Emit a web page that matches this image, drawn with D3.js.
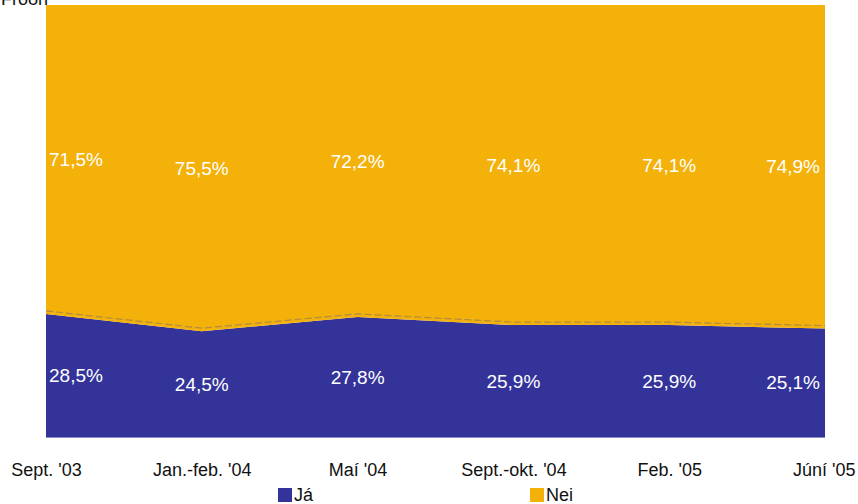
<!DOCTYPE html>
<html><head><meta charset="utf-8">
<script src="https://cdn.jsdelivr.net/npm/d3@7/dist/d3.min.js"></script>
<style>
body{margin:0;background:#fff;}
svg{display:block;}
text{font-family:"Liberation Sans",Arial,sans-serif;}
</style></head>
<body><svg id="c" width="858" height="504"></svg>
<script>
const categories = ["Sept. '03","Jan.-feb. '04","Maí '04","Sept.-okt. '04","Feb. '05","Júní '05"];
const jaValues  = [28.5, 24.5, 27.8, 25.9, 25.9, 25.1];
const neiValues = [71.5, 75.5, 72.2, 74.1, 74.1, 74.9];
const seriesNames = ["Já","Nei"];
const colors = ["#333399","#F4B10A"];
const title = "Fróðn";

const svg = d3.select("#c");
const m = {left:46, right:33, top:5, bottom:67};
const W = 858, H = 504;
const x = d3.scalePoint().domain(categories).range([m.left, W - m.right]);
const y = d3.scaleLinear().domain([0,100]).range([H - m.bottom, m.top]);

const rows = categories.map((c,i)=>({cat:c, ja:jaValues[i], nei:neiValues[i]}));
const stack = d3.stack().keys(["ja","nei"]);
const series = stack(rows);

const area = d3.area().x(d=>x(d.data.cat)).y0(d=>y(d[0])).y1(d=>y(d[1]));
svg.selectAll("path.area").data(series).join("path")
  .attr("class","area").attr("d",area).attr("fill",(d,i)=>colors[i]);

// thin dashed shadow line just above the boundary
const bline = d3.line().x(d=>x(d.data.cat)).y(d=>y(d[1]) - 3);
svg.append("path").attr("d", bline(series[0])).attr("fill","none")
  .attr("stroke","#a8884a").attr("stroke-width",1.2).attr("stroke-dasharray","7,3").attr("opacity",0.9);

// bottom edge
svg.append("line").attr("x1",m.left).attr("x2",W-m.right).attr("y1",y(0)+0.5).attr("y2",y(0)+0.5)
  .attr("stroke","#8c8cc8").attr("stroke-width",1);

// data labels
const n = categories.length;
function anchor(i){ return i===0 ? "start" : (i===n-1 ? "end" : "middle"); }
function lx(i){ return x(categories[i]) + (i===0 ? 3 : (i===n-1 ? -5 : 0)); }
series.forEach((s,si)=>{
  svg.selectAll(null).data(s).join("text")
    .attr("x",(d,i)=>lx(i))
    .attr("y",d=>(y(d[0])+y(d[1]))/2)
    .attr("dy","0.35em")
    .attr("text-anchor",(d,i)=>anchor(i))
    .attr("fill","#ffffff").attr("font-size",19)
    .attr("font-family","Roboto, sans-serif")
    .text(d=>d3.format(".1f")(d[1]-d[0]).replace(".",",")+"%");
});

// x axis labels
const xAxis = d3.axisBottom(x).tickSize(0).tickPadding(0);
const gx = svg.append("g").attr("transform",`translate(0,${y(0)})`).call(xAxis);
gx.select(".domain").remove();
gx.selectAll("text").attr("font-size",18).attr("fill","#111").attr("y",26)
  .attr("font-family",'"Liberation Sans",Arial,sans-serif')
  .attr("text-anchor",(d,i)=> i===n-1 ? "end" : "middle")
  .attr("dx",(d,i)=> i===n-1 ? 30 : 0);

// legend
const legX = [278, 530];
seriesNames.forEach((nm,i)=>{
  svg.append("rect").attr("x",legX[i]).attr("y",488).attr("width",14).attr("height",14).attr("fill",colors[i]);
  svg.append("text").attr("x",legX[i]+16).attr("y",501).attr("font-size",18).attr("fill","#111").text(nm);
});

// cut-off title (the reference shows only its lower part)
svg.append("text").attr("x",1).attr("y",5).attr("font-size",18).attr("fill","#111").text(title);
</script></body></html>
